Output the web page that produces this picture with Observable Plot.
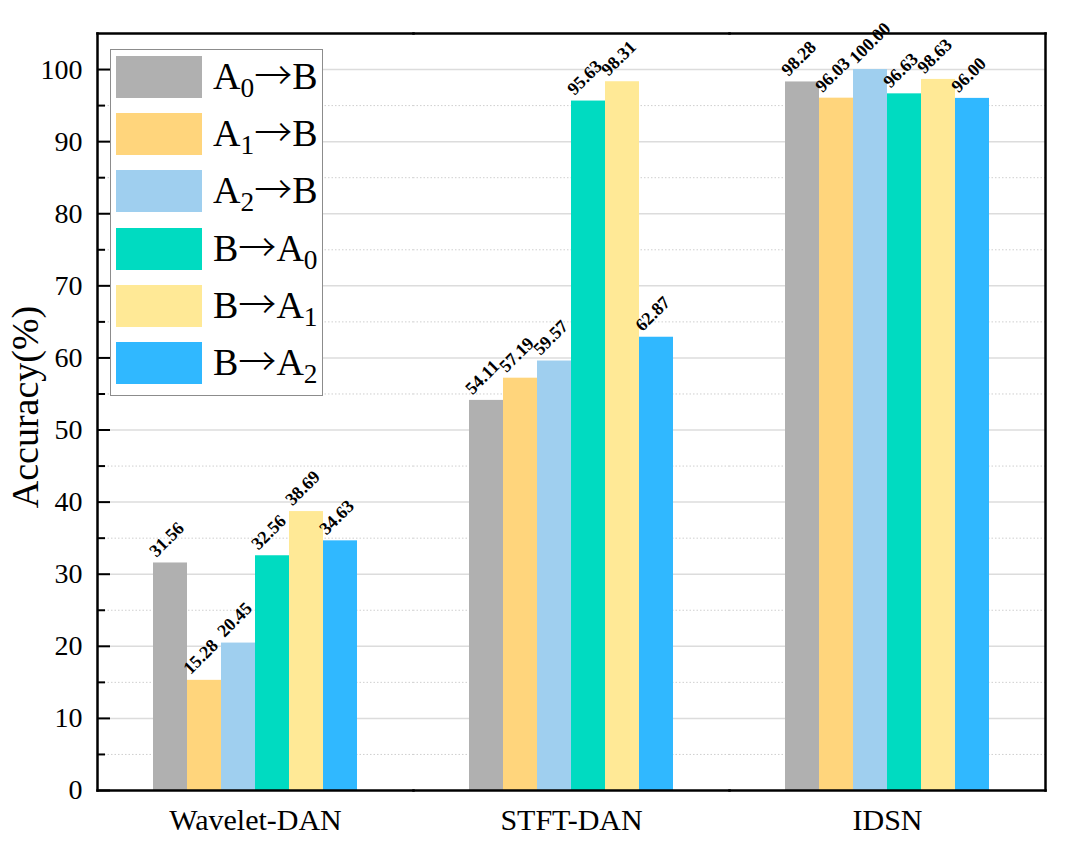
<!DOCTYPE html>
<html><head><meta charset="utf-8">
<script src="https://cdn.jsdelivr.net/npm/d3@7"></script>
<script src="https://cdn.jsdelivr.net/npm/@observablehq/plot@0.6"></script>
<style>
body{margin:0;background:#fff;}
#wrap{position:relative;width:1080px;height:842px;font-family:"Liberation Serif","Times New Roman",serif;}
#legend{position:absolute;left:110px;top:49px;width:213px;height:347px;border:1px solid #8c8c8c;background:#fff;box-sizing:border-box;}
.item{position:absolute;left:5px;height:42px;width:205px;}
.sw{position:absolute;left:0;top:0;width:86px;height:42px;}
.lb{position:absolute;left:97px;top:-4px;font-size:38px;line-height:42px;white-space:nowrap;color:#000;}
.lb sub{font-size:0.72em;vertical-align:-0.3em;line-height:0;}
.lb .ar{font-family:"Noto Sans CJK SC",sans-serif;font-weight:300;}
</style>
</head><body>
<div id="wrap"><div id="chart"></div><div id="legend"></div></div>
<script>
const methods = ["Wavelet-DAN", "STFT-DAN", "IDSN"];
const tasks = ["A0→B", "A1→B", "A2→B", "B→A0", "B→A1", "B→A2"];
const taskLabels = ["A<sub>0</sub><span class='ar'>→</span>B", "A<sub>1</sub><span class='ar'>→</span>B", "A<sub>2</sub><span class='ar'>→</span>B",
  "B<span class='ar'>→</span>A<sub>0</sub>", "B<span class='ar'>→</span>A<sub>1</sub>", "B<span class='ar'>→</span>A<sub>2</sub>"];
const waveletDAN = [31.56, 15.28, 20.45, 32.56, 38.69, 34.63];
const stftDAN = [54.11, 57.19, 59.57, 95.63, 98.31, 62.87];
const idsn = [98.28, 96.03, 100.00, 96.63, 98.63, 96.00];
const colors = ["#b0b0b0", "#ffd57c", "#9fcfef", "#00dbc1", "#ffe996", "#30b8ff"];
const yTicks = [0, 10, 20, 30, 40, 50, 60, 70, 80, 90, 100];
const yMinorTicks = [5, 15, 25, 35, 45, 55, 65, 75, 85, 95];

const series = [waveletDAN, stftDAN, idsn];
const rows = [];
methods.forEach((m, i) => tasks.forEach((t, j) => rows.push({method: m, task: t, value: series[i][j]})));

const chart = Plot.plot({
  width: 1080, height: 842,
  marginLeft: 97, marginRight: 35, marginTop: 33, marginBottom: 52,
  style: {fontFamily: '"Liberation Serif", "Times New Roman", serif', background: "white", color: "black"},
  fx: {domain: methods, padding: 0, label: null},
  x: {domain: tasks, paddingInner: 0, paddingOuter: 1.6, axis: null},
  y: {domain: [0, 105], label: null},
  color: {domain: tasks, range: colors},
  marks: [
    Plot.gridY(yMinorTicks, {stroke: "#cfcfcf", strokeOpacity: 1, strokeDasharray: "1.5,2"}),
    Plot.gridY(yTicks.slice(1), {stroke: "#dcdcdc", strokeOpacity: 1, strokeWidth: 1.5}),
    Plot.barY(rows, {fx: "method", x: "task", y: "value", fill: "task"}),
    Plot.text(rows, {fx: "method", x: "task", y: "value", text: d => d.value.toFixed(2),
      rotate: -45, textAnchor: "start", lineAnchor: "bottom", dx: -14, dy: -5,
      fontSize: 18, fontWeight: "bold", fill: "black"}),
    Plot.axisY(yTicks, {tickSize: 0, tickPadding: 15, fontSize: 28, label: null}),
    Plot.axisY(yTicks, {tickSize: -13, tickFormat: () => "", strokeWidth: 2, label: null}),
    Plot.axisY(yMinorTicks, {tickSize: -8, tickFormat: () => "", strokeWidth: 2, label: null}),
    Plot.axisFx({anchor: "bottom", tickSize: 0, tickPadding: 18, fontSize: 30, label: null}),
    Plot.frame({anchor: "top", stroke: "black", strokeWidth: 2.5}),
    Plot.frame({anchor: "bottom", stroke: "black", strokeWidth: 2.5}),
    Plot.frame({anchor: "left", stroke: "black", strokeWidth: 2.5, facetAnchor: "left"}),
    Plot.frame({anchor: "right", stroke: "black", strokeWidth: 2.5, facetAnchor: "right"}),
    Plot.text(["Accuracy(%)"], {frameAnchor: "left", rotate: -90, dx: -60, dy: -5,
      textAnchor: "middle", lineAnchor: "bottom", fontSize: 38, fill: "black", facetAnchor: "left"})
  ]
});
document.getElementById("chart").appendChild(chart);

const legend = document.getElementById("legend");
tasks.forEach((t, i) => {
  const item = document.createElement("div");
  item.className = "item";
  item.style.top = (6 + i * 57.2) + "px";
  item.innerHTML = `<div class="sw" style="background:${colors[i]}"></div><div class="lb">${taskLabels[i]}</div>`;
  legend.appendChild(item);
});
</script>
</body></html>
